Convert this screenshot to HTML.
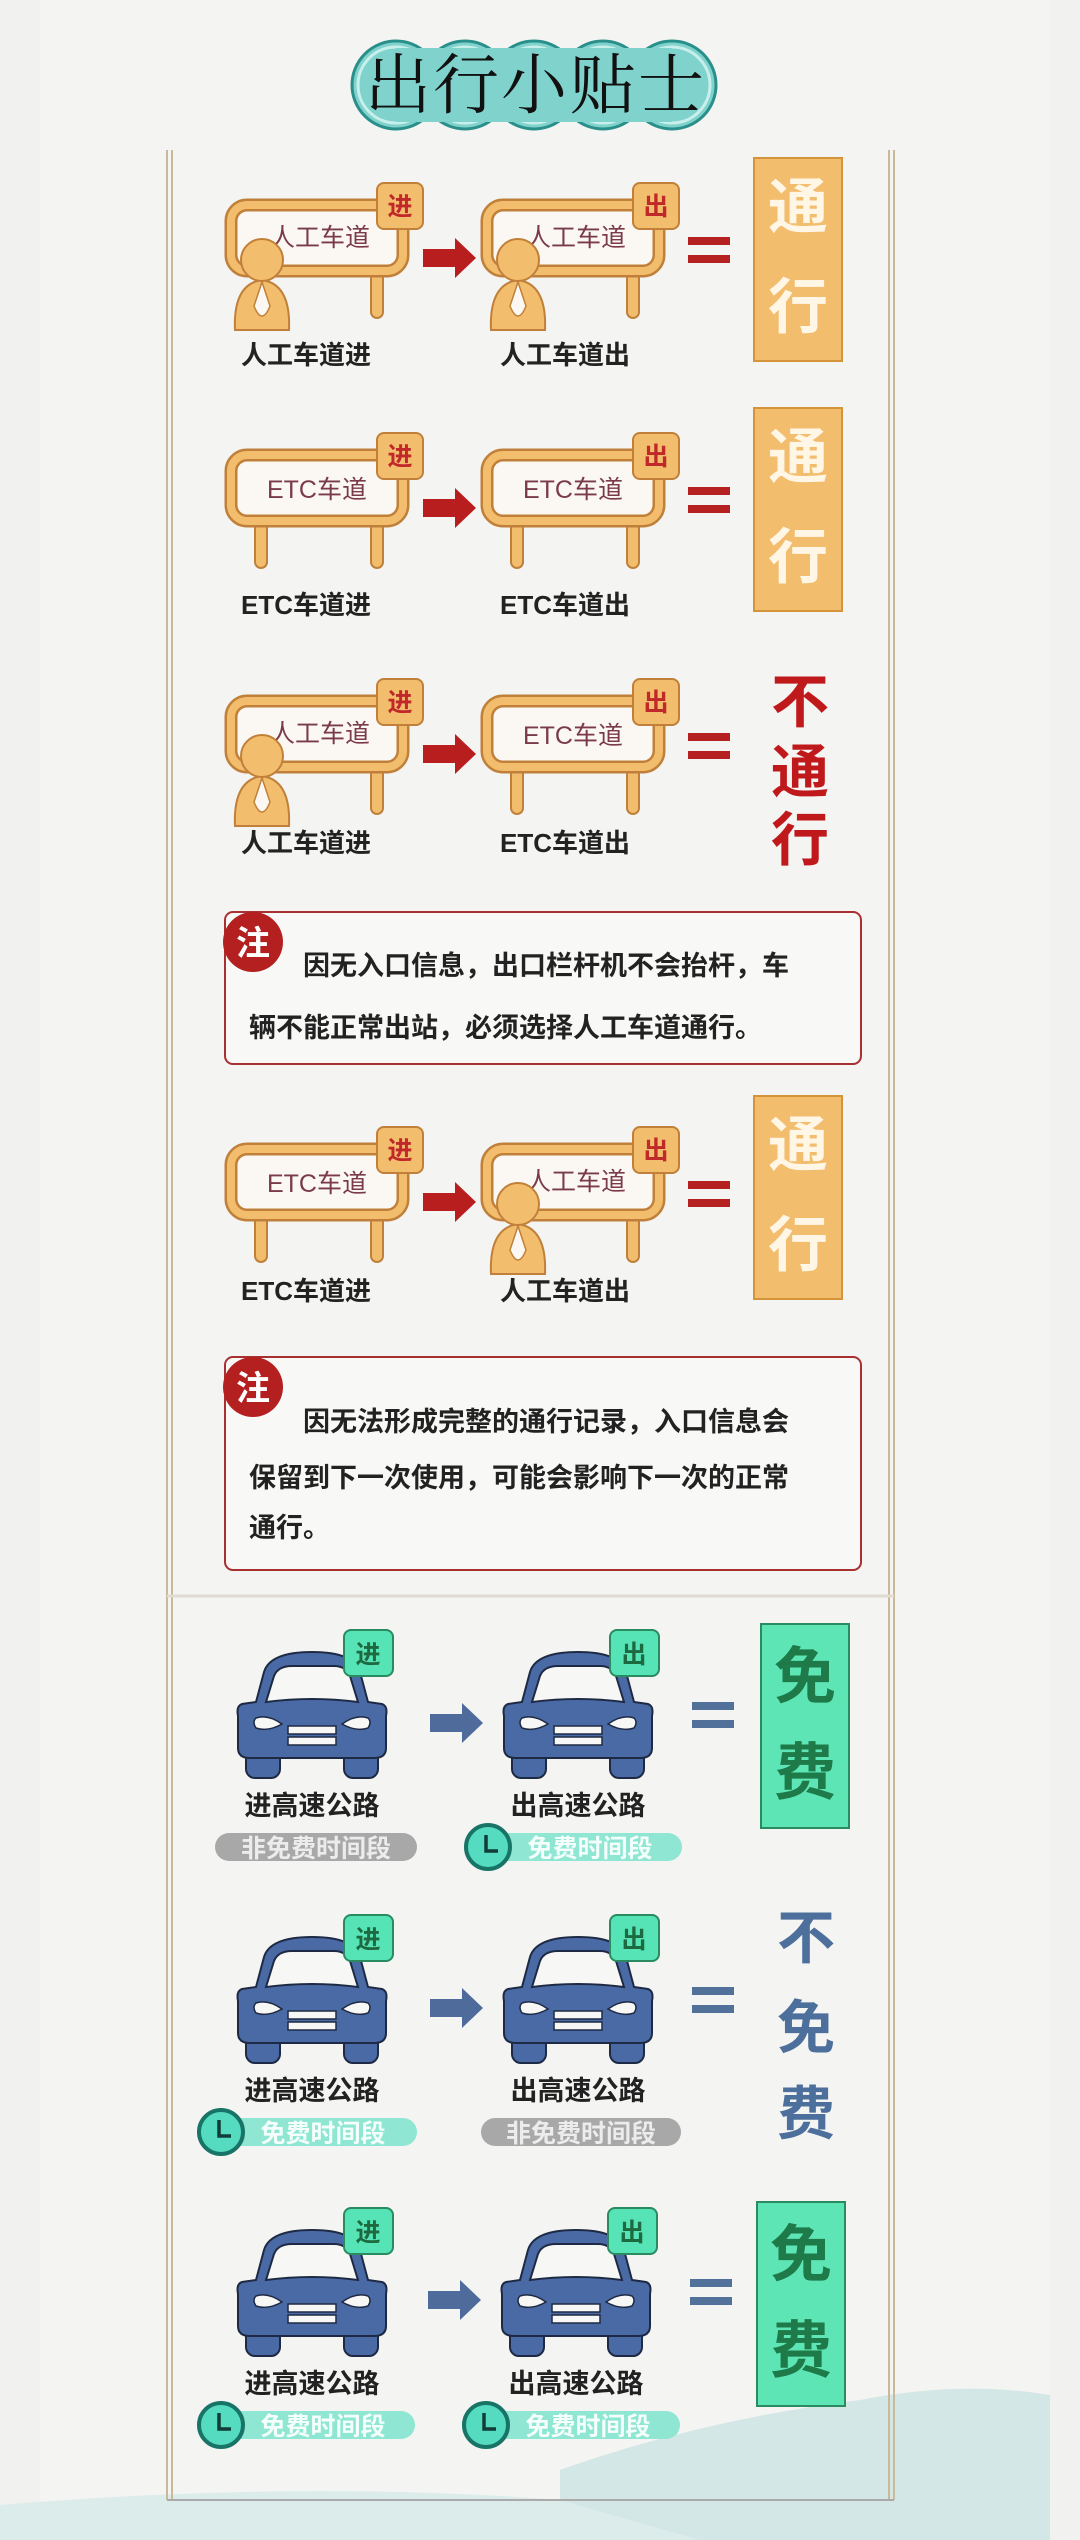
<!DOCTYPE html>
<html><head><meta charset="utf-8"><style>
html,body{margin:0;padding:0;background:#f1f1ef;}
svg{display:block}
text{font-family:"Liberation Sans","Noto Sans CJK SC",sans-serif;}
</style></head><body>
<svg width="1080" height="2540" viewBox="0 0 1080 2540" xmlns="http://www.w3.org/2000/svg">
<defs>
<g id="frame">
  <rect x="30" y="88" width="12" height="50" rx="6" fill="#f3bd6e" stroke="#c0803a" stroke-width="2"/>
  <rect x="146" y="88" width="12" height="50" rx="6" fill="#f3bd6e" stroke="#c0803a" stroke-width="2"/>
  <rect x="6" y="25" width="172" height="66" rx="16" fill="#fbf8f3" stroke="#c0803a" stroke-width="13"/>
  <rect x="6" y="25" width="172" height="66" rx="16" fill="none" stroke="#f3bd6e" stroke-width="8"/>
</g>
<g id="frameM">
  <rect x="146" y="88" width="12" height="50" rx="6" fill="#f3bd6e" stroke="#c0803a" stroke-width="2"/>
  <rect x="6" y="25" width="172" height="66" rx="16" fill="#fbf8f3" stroke="#c0803a" stroke-width="13"/>
  <rect x="6" y="25" width="172" height="66" rx="16" fill="none" stroke="#f3bd6e" stroke-width="8"/>
</g>
<g id="person">
  <path d="M10,150 Q8,104 37,100 Q66,104 64,150 Z" fill="#f3bd6e" stroke="#c0803a" stroke-width="2"/>
  <path d="M37,102 L29,126 Q37,146 45,126 Z" fill="#fbf8f3" stroke="#c0803a" stroke-width="1.5"/>
  <circle cx="37" cy="80" r="21" fill="#f3bd6e" stroke="#c0803a" stroke-width="2"/>
</g>
<g id="tag">
  <rect x="152" y="3" width="46" height="46" rx="7" fill="#f3bd6e" stroke="#c0803a" stroke-width="2"/>
</g>
<g id="rarrow"><polygon points="0,-9 32,-9 32,-20 53,0 32,20 32,9 0,9" fill="#b81e1e"/></g>
<g id="req"><rect x="0" y="-13" width="42" height="8" fill="#b52020"/><rect x="0" y="5" width="42" height="8" fill="#b52020"/></g>
<g id="barrow"><polygon points="0,-9 32,-9 32,-20 53,0 32,20 32,9 0,9" fill="#4e6b9c"/></g>
<g id="beq"><rect x="0" y="-13" width="42" height="8" fill="#51709a"/><rect x="0" y="5" width="42" height="8" fill="#51709a"/></g>
<g id="car">
  <rect x="10" y="112" width="34" height="36" rx="9" fill="#4a6aa6" stroke="#1e2a44" stroke-width="2"/>
  <rect x="108" y="112" width="34" height="36" rx="9" fill="#4a6aa6" stroke="#1e2a44" stroke-width="2"/>
  <path d="M20,72 L28,42 Q34,22 76,22 Q118,22 124,42 L132,72 L146,74 Q152,76 150,86 L150,118 Q150,128 138,128 L14,128 Q2,128 2,118 L2,86 Q0,76 6,74 Z" fill="#4a6aa6" stroke="#1e2a44" stroke-width="2"/>
  <path d="M30,72 L38,46 Q42,36 56,36 L98,36 Q110,36 114,46 L122,72 Q76,66 30,72 Z" fill="#f7f7f5" stroke="#1e2a44" stroke-width="2"/>
  <path d="M20,88 Q32,84 46,94 Q32,102 20,98 Q16,92 20,88 Z" fill="#f7f7f5" stroke="#1e2a44" stroke-width="1.5"/>
  <path d="M132,88 Q120,84 106,94 Q120,102 132,98 Q136,92 132,88 Z" fill="#f7f7f5" stroke="#1e2a44" stroke-width="1.5"/>
  <rect x="52" y="96" width="48" height="8" fill="#f7f7f5" stroke="#1e2a44" stroke-width="1.5"/>
  <rect x="52" y="107" width="48" height="8" fill="#f7f7f5" stroke="#1e2a44" stroke-width="1.5"/>
  <rect x="108" y="0" width="49" height="46" rx="7" fill="#56e3b6" stroke="#2a8a60" stroke-width="2"/>
</g>
<g id="clock">
  <circle cx="0" cy="0" r="22" fill="#55dcc0" stroke="#177466" stroke-width="4"/>
  <path d="M-2,-12 L-2,4 L10,4" fill="none" stroke="#123c38" stroke-width="3.5"/>
</g>
</defs>

<rect x="0" y="0" width="1080" height="2540" fill="#f1f1ef"/>
<rect x="40" y="0" width="1010" height="2540" fill="#f4f4f2"/>
<path d="M560,2540 L560,2470 Q700,2420 860,2400 Q960,2380 1050,2395 L1050,2540 Z" fill="#d3e7e6"/>
<path d="M0,2540 L0,2505 Q300,2480 560,2500 L700,2540 Z" fill="#dbeceb"/>

<g stroke="#2a8f8a" stroke-width="3" fill="#7fd3cc">
  <circle cx="396" cy="85" r="44"/><circle cx="465" cy="85" r="44"/><circle cx="534" cy="85" r="44"/><circle cx="603" cy="85" r="44"/><circle cx="672" cy="85" r="44"/>
</g>
<g fill="none" stroke="#c8efeb" stroke-width="3">
  <circle cx="396" cy="85" r="38"/><circle cx="465" cy="85" r="38"/><circle cx="534" cy="85" r="38"/><circle cx="603" cy="85" r="38"/><circle cx="672" cy="85" r="38"/>
</g>
<rect x="396" y="48" width="276" height="74" fill="#7fd3cc"/>
<g font-size="66" fill="#111" text-anchor="middle">
  <text x="398" y="108" style="font-family:'Noto Serif CJK SC',serif">出</text>
  <text x="466" y="108" style="font-family:'Noto Serif CJK SC',serif">行</text>
  <text x="534" y="108" style="font-family:'Noto Serif CJK SC',serif">小</text>
  <text x="603" y="108" style="font-family:'Noto Serif CJK SC',serif">贴</text>
  <text x="671" y="108" style="font-family:'Noto Serif CJK SC',serif">士</text>
</g>

<g stroke="#c9b999" stroke-width="2" fill="none">
  <line x1="167" y1="150" x2="167" y2="2500"/><line x1="172" y1="150" x2="172" y2="2500"/>
  <line x1="889" y1="150" x2="889" y2="2500"/><line x1="894" y1="150" x2="894" y2="2500"/>
</g>
<line x1="167" y1="2500" x2="894" y2="2500" stroke="#aaa" stroke-width="2"/>
<line x1="167" y1="1596" x2="894" y2="1596" stroke="#e0dbd0" stroke-width="3"/>

<g transform="translate(225,180)"><use href="#frameM"/><use href="#tag"/>
  <text x="95" y="66" font-size="25" fill="#7a3a48" text-anchor="middle">人工车道</text>
  <text x="175" y="35" font-size="25" font-weight="bold" fill="#c0282a" text-anchor="middle">进</text><use href="#person"/></g>
<g transform="translate(481,180)"><use href="#frameM"/><use href="#tag"/>
  <text x="95" y="66" font-size="25" fill="#7a3a48" text-anchor="middle">人工车道</text>
  <text x="175" y="35" font-size="25" font-weight="bold" fill="#c0282a" text-anchor="middle">出</text><use href="#person"/></g>
<use href="#rarrow" x="423" y="258"/><use href="#req" x="688" y="250"/>
<text x="306" y="364" font-size="26" font-weight="bold" fill="#222" text-anchor="middle">人工车道进</text>
<text x="565" y="364" font-size="26" font-weight="bold" fill="#222" text-anchor="middle">人工车道出</text>
<rect x="754" y="158" width="88" height="203" fill="#f3bd6e" stroke="#d4953a" stroke-width="2"/>
<text x="798" y="228" font-size="60" font-weight="bold" fill="#fff6e6" text-anchor="middle">通</text>
<text x="798" y="328" font-size="60" font-weight="bold" fill="#fff6e6" text-anchor="middle">行</text>

<g transform="translate(225,430)"><use href="#frame"/><use href="#tag"/>
  <text x="92" y="68" font-size="25" fill="#7a3a48" text-anchor="middle">ETC车道</text>
  <text x="175" y="35" font-size="25" font-weight="bold" fill="#c0282a" text-anchor="middle">进</text></g>
<g transform="translate(481,430)"><use href="#frame"/><use href="#tag"/>
  <text x="92" y="68" font-size="25" fill="#7a3a48" text-anchor="middle">ETC车道</text>
  <text x="175" y="35" font-size="25" font-weight="bold" fill="#c0282a" text-anchor="middle">出</text></g>
<use href="#rarrow" x="423" y="508"/><use href="#req" x="688" y="500"/>
<text x="306" y="614" font-size="26" font-weight="bold" fill="#222" text-anchor="middle">ETC车道进</text>
<text x="565" y="614" font-size="26" font-weight="bold" fill="#222" text-anchor="middle">ETC车道出</text>
<rect x="754" y="408" width="88" height="203" fill="#f3bd6e" stroke="#d4953a" stroke-width="2"/>
<text x="798" y="478" font-size="60" font-weight="bold" fill="#fff6e6" text-anchor="middle">通</text>
<text x="798" y="578" font-size="60" font-weight="bold" fill="#fff6e6" text-anchor="middle">行</text>

<g transform="translate(225,676)"><use href="#frameM"/><use href="#tag"/>
  <text x="95" y="66" font-size="25" fill="#7a3a48" text-anchor="middle">人工车道</text>
  <text x="175" y="35" font-size="25" font-weight="bold" fill="#c0282a" text-anchor="middle">进</text><use href="#person"/></g>
<g transform="translate(481,676)"><use href="#frame"/><use href="#tag"/>
  <text x="92" y="68" font-size="25" fill="#7a3a48" text-anchor="middle">ETC车道</text>
  <text x="175" y="35" font-size="25" font-weight="bold" fill="#c0282a" text-anchor="middle">出</text></g>
<use href="#rarrow" x="423" y="754"/><use href="#req" x="688" y="746"/>
<text x="306" y="852" font-size="26" font-weight="bold" fill="#222" text-anchor="middle">人工车道进</text>
<text x="565" y="852" font-size="26" font-weight="bold" fill="#222" text-anchor="middle">ETC车道出</text>
<g font-size="58" font-weight="bold" fill="#c0191c" text-anchor="middle">
  <text x="800" y="722">不</text><text x="800" y="792">通</text><text x="800" y="860">行</text>
</g>

<rect x="225" y="912" width="636" height="152" rx="8" fill="#f8f8f6" stroke="#a83030" stroke-width="2"/>
<circle cx="253" cy="942" r="30" fill="#b3201f"/>
<text x="253" y="955" font-size="34" font-weight="bold" fill="#fff" text-anchor="middle">注</text>
<text x="303" y="975" font-size="27" font-weight="bold" fill="#222">因无入口信息，出口栏杆机不会抬杆，车</text>
<text x="249" y="1037" font-size="27" font-weight="bold" fill="#222">辆不能正常出站，必须选择人工车道通行。</text>

<g transform="translate(225,1124)"><use href="#frame"/><use href="#tag"/>
  <text x="92" y="68" font-size="25" fill="#7a3a48" text-anchor="middle">ETC车道</text>
  <text x="175" y="35" font-size="25" font-weight="bold" fill="#c0282a" text-anchor="middle">进</text></g>
<g transform="translate(481,1124)"><use href="#frameM"/><use href="#tag"/>
  <text x="95" y="66" font-size="25" fill="#7a3a48" text-anchor="middle">人工车道</text>
  <text x="175" y="35" font-size="25" font-weight="bold" fill="#c0282a" text-anchor="middle">出</text><use href="#person"/></g>
<use href="#rarrow" x="423" y="1202"/><use href="#req" x="688" y="1194"/>
<text x="306" y="1300" font-size="26" font-weight="bold" fill="#222" text-anchor="middle">ETC车道进</text>
<text x="565" y="1300" font-size="26" font-weight="bold" fill="#222" text-anchor="middle">人工车道出</text>
<rect x="754" y="1096" width="88" height="203" fill="#f3bd6e" stroke="#d4953a" stroke-width="2"/>
<text x="798" y="1166" font-size="60" font-weight="bold" fill="#fff6e6" text-anchor="middle">通</text>
<text x="798" y="1266" font-size="60" font-weight="bold" fill="#fff6e6" text-anchor="middle">行</text>

<rect x="225" y="1357" width="636" height="213" rx="8" fill="#f8f8f6" stroke="#a83030" stroke-width="2"/>
<circle cx="253" cy="1387" r="30" fill="#b3201f"/>
<text x="253" y="1400" font-size="34" font-weight="bold" fill="#fff" text-anchor="middle">注</text>
<text x="303" y="1431" font-size="27" font-weight="bold" fill="#222">因无法形成完整的通行记录，入口信息会</text>
<text x="249" y="1487" font-size="27" font-weight="bold" fill="#222">保留到下一次使用，可能会影响下一次的正常</text>
<text x="249" y="1537" font-size="27" font-weight="bold" fill="#222">通行。</text>

<g transform="translate(236,1630)"><use href="#car"/><text x="132" y="33" font-size="25" font-weight="bold" fill="#1e6a40" text-anchor="middle">进</text></g>
<g transform="translate(502,1630)"><use href="#car"/><text x="132" y="33" font-size="25" font-weight="bold" fill="#1e6a40" text-anchor="middle">出</text></g>
<use href="#barrow" x="430" y="1723"/><use href="#beq" x="692" y="1715"/>
<text x="312" y="1815" font-size="27" font-weight="bold" fill="#222" text-anchor="middle">进高速公路</text>
<text x="578" y="1815" font-size="27" font-weight="bold" fill="#222" text-anchor="middle">出高速公路</text>
<rect x="215" y="1833" width="202" height="28" rx="14" fill="#a8a8a8"/>
<text x="316" y="1857" font-size="25" font-weight="bold" fill="#ececec" text-anchor="middle">非免费时间段</text>
<rect x="486" y="1833" width="196" height="28" rx="14" fill="#8fe6d2"/>
<text x="590" y="1857" font-size="25" font-weight="bold" fill="#f4fffc" text-anchor="middle">免费时间段</text>
<use href="#clock" x="488" y="1847"/>
<rect x="761" y="1624" width="88" height="204" fill="#5ee5b5" stroke="#2a8a60" stroke-width="2"/>
<text x="805" y="1698" font-size="62" font-weight="bold" fill="#1e7a48" text-anchor="middle">免</text>
<text x="805" y="1794" font-size="62" font-weight="bold" fill="#1e7a48" text-anchor="middle">费</text>

<g transform="translate(236,1915)"><use href="#car"/><text x="132" y="33" font-size="25" font-weight="bold" fill="#1e6a40" text-anchor="middle">进</text></g>
<g transform="translate(502,1915)"><use href="#car"/><text x="132" y="33" font-size="25" font-weight="bold" fill="#1e6a40" text-anchor="middle">出</text></g>
<use href="#barrow" x="430" y="2008"/><use href="#beq" x="692" y="2000"/>
<text x="312" y="2100" font-size="27" font-weight="bold" fill="#222" text-anchor="middle">进高速公路</text>
<text x="578" y="2100" font-size="27" font-weight="bold" fill="#222" text-anchor="middle">出高速公路</text>
<rect x="219" y="2118" width="198" height="28" rx="14" fill="#8fe6d2"/>
<text x="323" y="2142" font-size="25" font-weight="bold" fill="#f4fffc" text-anchor="middle">免费时间段</text>
<use href="#clock" x="221" y="2132"/>
<rect x="481" y="2118" width="200" height="28" rx="14" fill="#a8a8a8"/>
<text x="581" y="2142" font-size="25" font-weight="bold" fill="#ececec" text-anchor="middle">非免费时间段</text>
<g font-size="58" font-weight="bold" fill="#4d6f9c" text-anchor="middle">
  <text x="806" y="1958">不</text><text x="806" y="2048">免</text><text x="806" y="2134">费</text>
</g>

<g transform="translate(236,2208)"><use href="#car"/><text x="132" y="33" font-size="25" font-weight="bold" fill="#1e6a40" text-anchor="middle">进</text></g>
<g transform="translate(500,2208)"><use href="#car"/><text x="132" y="33" font-size="25" font-weight="bold" fill="#1e6a40" text-anchor="middle">出</text></g>
<use href="#barrow" x="428" y="2300"/><use href="#beq" x="690" y="2292"/>
<text x="312" y="2393" font-size="27" font-weight="bold" fill="#222" text-anchor="middle">进高速公路</text>
<text x="576" y="2393" font-size="27" font-weight="bold" fill="#222" text-anchor="middle">出高速公路</text>
<rect x="219" y="2411" width="196" height="28" rx="14" fill="#8fe6d2"/>
<text x="323" y="2435" font-size="25" font-weight="bold" fill="#f4fffc" text-anchor="middle">免费时间段</text>
<use href="#clock" x="221" y="2425"/>
<rect x="484" y="2411" width="196" height="28" rx="14" fill="#8fe6d2"/>
<text x="588" y="2435" font-size="25" font-weight="bold" fill="#f4fffc" text-anchor="middle">免费时间段</text>
<use href="#clock" x="486" y="2425"/>
<rect x="757" y="2202" width="88" height="204" fill="#5ee5b5" stroke="#2a8a60" stroke-width="2"/>
<text x="801" y="2276" font-size="62" font-weight="bold" fill="#1e7a48" text-anchor="middle">免</text>
<text x="801" y="2372" font-size="62" font-weight="bold" fill="#1e7a48" text-anchor="middle">费</text>
</svg>
</body></html>
